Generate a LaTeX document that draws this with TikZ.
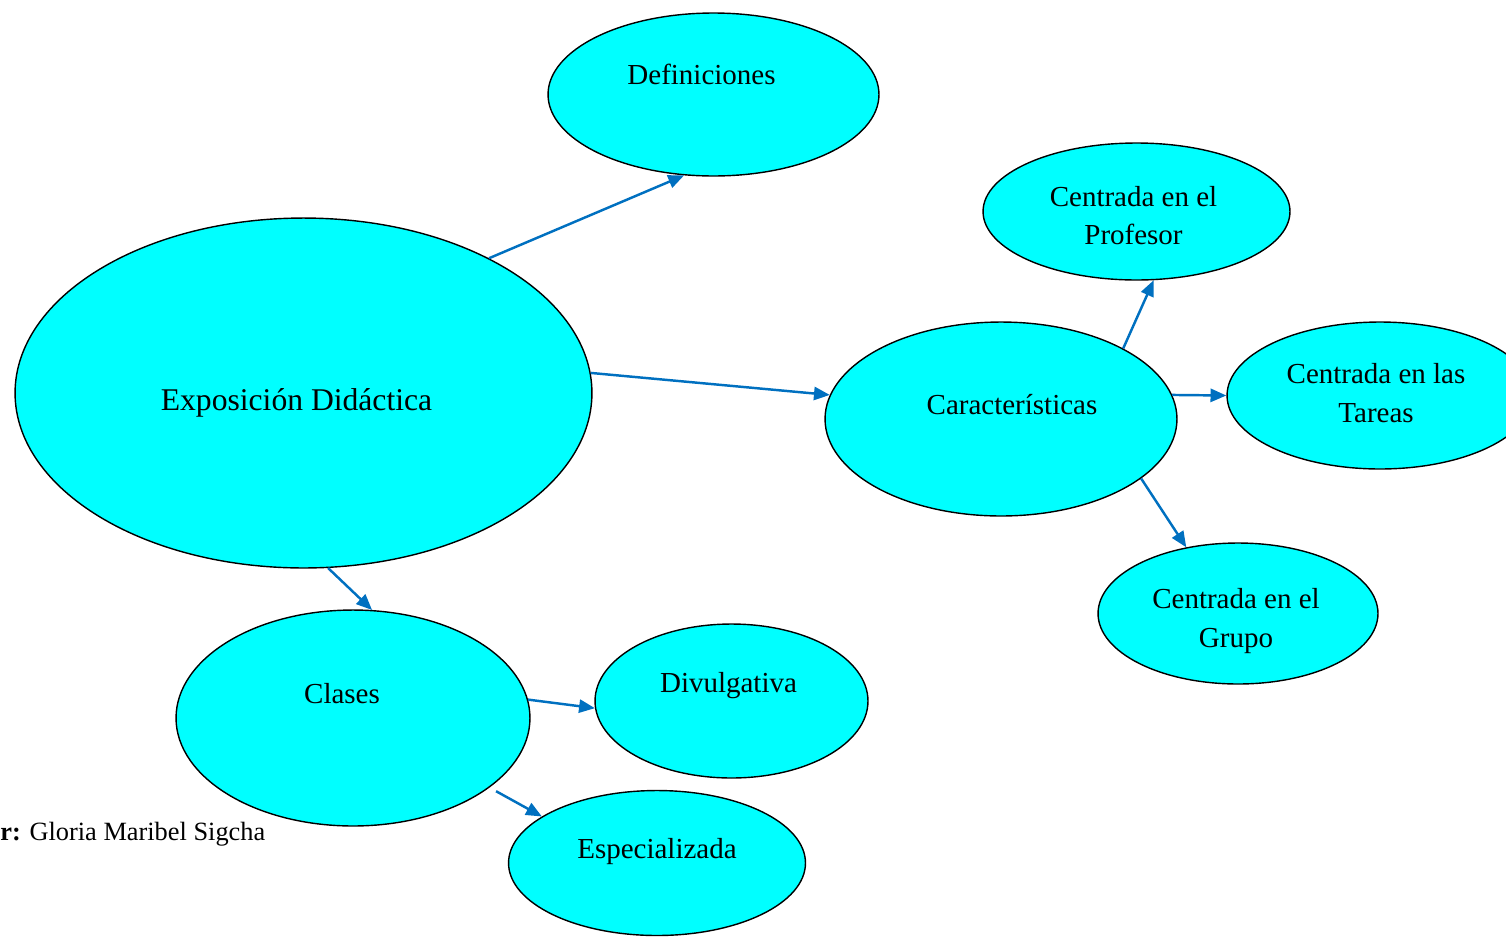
\documentclass[tikz,border=0pt]{standalone}
\usepackage{fontspec}
\setmainfont{Liberation Serif}
\usetikzlibrary{shapes,arrows.meta}
\definecolor{linkblue}{RGB}{0,112,192}
\definecolor{ovalfill}{RGB}{0,255,255}
\newcommand{\ovaltext}[3]{\raisebox{#2}[0pt][0pt]{\makebox[0pt]{\kern#1\kern#1\begin{tabular}{@{}c@{}}#3\end{tabular}}}}

\begin{document}
\begin{tikzpicture}
[x=0.02cm,y=-0.02cm,
edge/.style={linkblue, line width=1.4pt, -{Triangle[length=9pt,width=7.5pt]}},
oval/.style={ellipse,draw=black,line width=.8pt,fill=ovalfill,inner sep=0pt,
  font=\fontsize{16.5}{22}\selectfont}]
\clip (0,0) rectangle (1506,937);
%%
\node[oval,minimum width=11.54cm,minimum height=7cm,font=\fontsize{18}{22}\selectfont]
  (expo) at (303.5,393) {\ovaltext{-0.14cm}{-0.34cm}{Exposición Didáctica}};
\node[oval,minimum width=6.62cm,minimum height=3.26cm]
  (defs) at (713.5,94.5) {\ovaltext{-0.24cm}{0.21cm}{Definiciones}};
\node[oval,minimum width=7.04cm,minimum height=3.88cm]
  (carac) at (1001,419) {\ovaltext{0.22cm}{0.1cm}{Características}};
\node[oval,minimum width=6.14cm,minimum height=2.74cm]
  (prof) at (1136.5,211.5) {\ovaltext{-0.06cm}{-0.28cm}{Centrada en el\\Profesor}};
\node[oval,minimum width=6.12cm,minimum height=2.94cm]
  (tareas) at (1380,395.5) {\ovaltext{-0.08cm}{-0.15cm}{Centrada en las\\Tareas}};
\node[oval,minimum width=5.6cm,minimum height=2.82cm]
  (grupo) at (1238,613.5) {\ovaltext{-0.04cm}{-0.29cm}{Centrada en el\\Grupo}};
%%
\node[oval,minimum width=7.08cm,minimum height=4.32cm]
  (clases) at (353,718) {\ovaltext{-0.22cm}{0.3cm}{Clases}};
\node[oval,minimum width=5.46cm,minimum height=3.08cm]
  (divul) at (731.5,701) {\ovaltext{-0.06cm}{0.18cm}{Divulgativa}};
\node[oval,minimum width=5.94cm,minimum height=2.9cm]
  (espec) at (657,863) {\ovaltext{0cm}{0.1cm}{Especializada}};
%%
\node[anchor=west,inner sep=0pt,font=\fontsize{15}{18}\selectfont]
  (autor) at (0,834) {\textbf{r:} Gloria Maribel Sigcha};
%%
\draw[edge] (expo.36) -- (defs.-110);
\draw[edge] (expo.4) -- (carac.172);
\draw[edge] (expo.-82) -- (clases.80);
\draw[edge] (carac.30) -- (prof.-76);
\draw[edge] (carac.8) -- (tareas.west);
\draw[edge] (carac.-23) -- (grupo.128);
\draw[edge] (clases.6) -- (divul.183);
\draw[edge,shorten <=.15cm] (clases.-27) -- (espec.158);
\end{tikzpicture}
\end{document}
